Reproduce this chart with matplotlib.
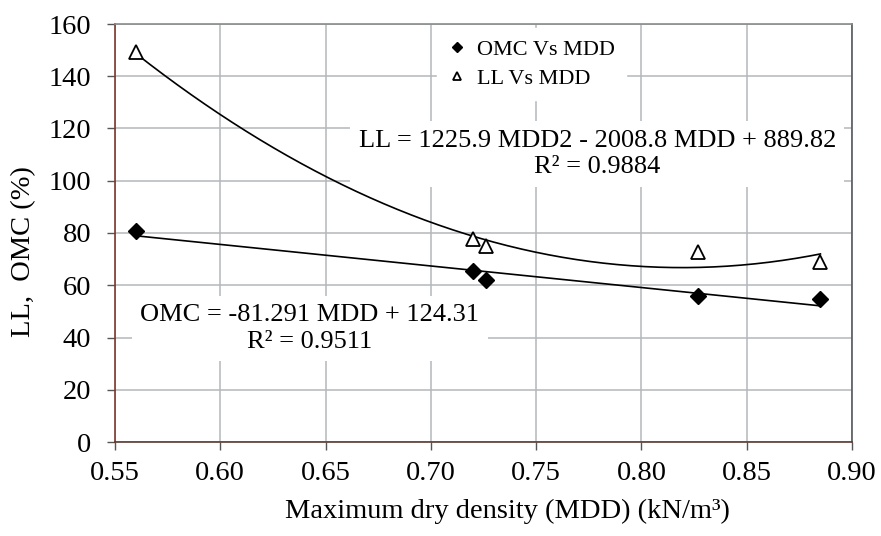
import numpy as np
import matplotlib
matplotlib.use('Agg')
import matplotlib.pyplot as plt

# values
mdd = [0.560, 0.720, 0.726, 0.827, 0.885]
omc = [80.8, 65.5, 62.0, 55.9, 54.7]
ll = [149.3, 77.7, 75.0, 72.7, 68.9]

x_ticks = [0.55, 0.60, 0.65, 0.70, 0.75, 0.80, 0.85, 0.90]
y_ticks = [0, 20, 40, 60, 80, 100, 120, 140, 160]

omc_eq = 'OMC = -81.291 MDD + 124.31\nR² = 0.9511'
ll_eq = 'LL = 1225.9 MDD2 - 2008.8 MDD + 889.82\nR² = 0.9884'

plt.rcParams['font.family'] = ['Liberation Serif', 'DejaVu Serif']

fig = plt.figure(figsize=(8.81, 5.36), dpi=100)
ax = fig.add_axes([115 / 881, 1 - 442 / 536, (852 - 115) / 881, (442 - 24) / 536])

ax.set_xlim(0.55, 0.90)
ax.set_ylim(0, 160)
ax.set_xticks(x_ticks)
ax.set_yticks(y_ticks)
ax.set_xticklabels(['%.2f' % t for t in x_ticks])
ax.tick_params(labelsize=20.5, direction='out', length=6, width=1, color='#555555')
ax.tick_params(axis='x', pad=8)
ax.tick_params(axis='y', pad=11)
ax.grid(True, color='#b4b8bc', linewidth=1.1)
ax.set_axisbelow(True)

ax.spines['left'].set_color('#7a3a2e')
ax.spines['bottom'].set_color('#5a3a34')
ax.spines['right'].set_color('#555a5e')
ax.spines['top'].set_color('#8a8a8a')
for s in ax.spines.values():
    s.set_linewidth(1.2)

# trend lines fitted to the points
xs = np.linspace(min(mdd), max(mdd), 200)
p1 = np.polyfit(mdd, omc, 1)
p2 = np.polyfit(mdd, ll, 2)
ax.plot(xs, np.polyval(p1, xs), color='black', lw=1.2, zorder=3)
ax.plot(xs, np.polyval(p2, xs), color='black', lw=1.2, zorder=3)

ax.plot(mdd, omc, 'D', color='black', ms=8, ls='none', label='OMC Vs MDD', zorder=4)
ax.plot(mdd, ll, '^', mfc='white', mec='black', mew=1.3, ms=10, ls='none', label='LL Vs MDD', zorder=4)

leg = ax.legend(loc='upper left', bbox_to_anchor=(0.4225, 1.017), frameon=True,
                fontsize=16, handlelength=0.8, handletextpad=0.5, borderpad=0.5,
                labelspacing=0.4, markerscale=0.6)
leg.get_frame().set_edgecolor('white')
leg.get_frame().set_facecolor('white')
leg.get_frame().set_alpha(1)

box = dict(facecolor='white', edgecolor='none', pad=6)
ax.text(0.779, 110.2, ll_eq, fontsize=19, ha='center', va='center',
        linespacing=1.27, bbox=box, zorder=5)
ax.text(0.6426, 43.4, omc_eq, fontsize=19, ha='center', va='center',
        linespacing=1.27, bbox=box, zorder=5)

ax.set_xlabel('Maximum dry density (MDD) (kN/m³)', fontsize=20.5, va='center')
ax.xaxis.set_label_coords(0.532, -0.167)
ax.set_ylabel('LL,  OMC (%)', fontsize=20.5, va='center')
ax.yaxis.set_label_coords(-0.1235, 0.4545)

fig.savefig('out.png', dpi=100)
